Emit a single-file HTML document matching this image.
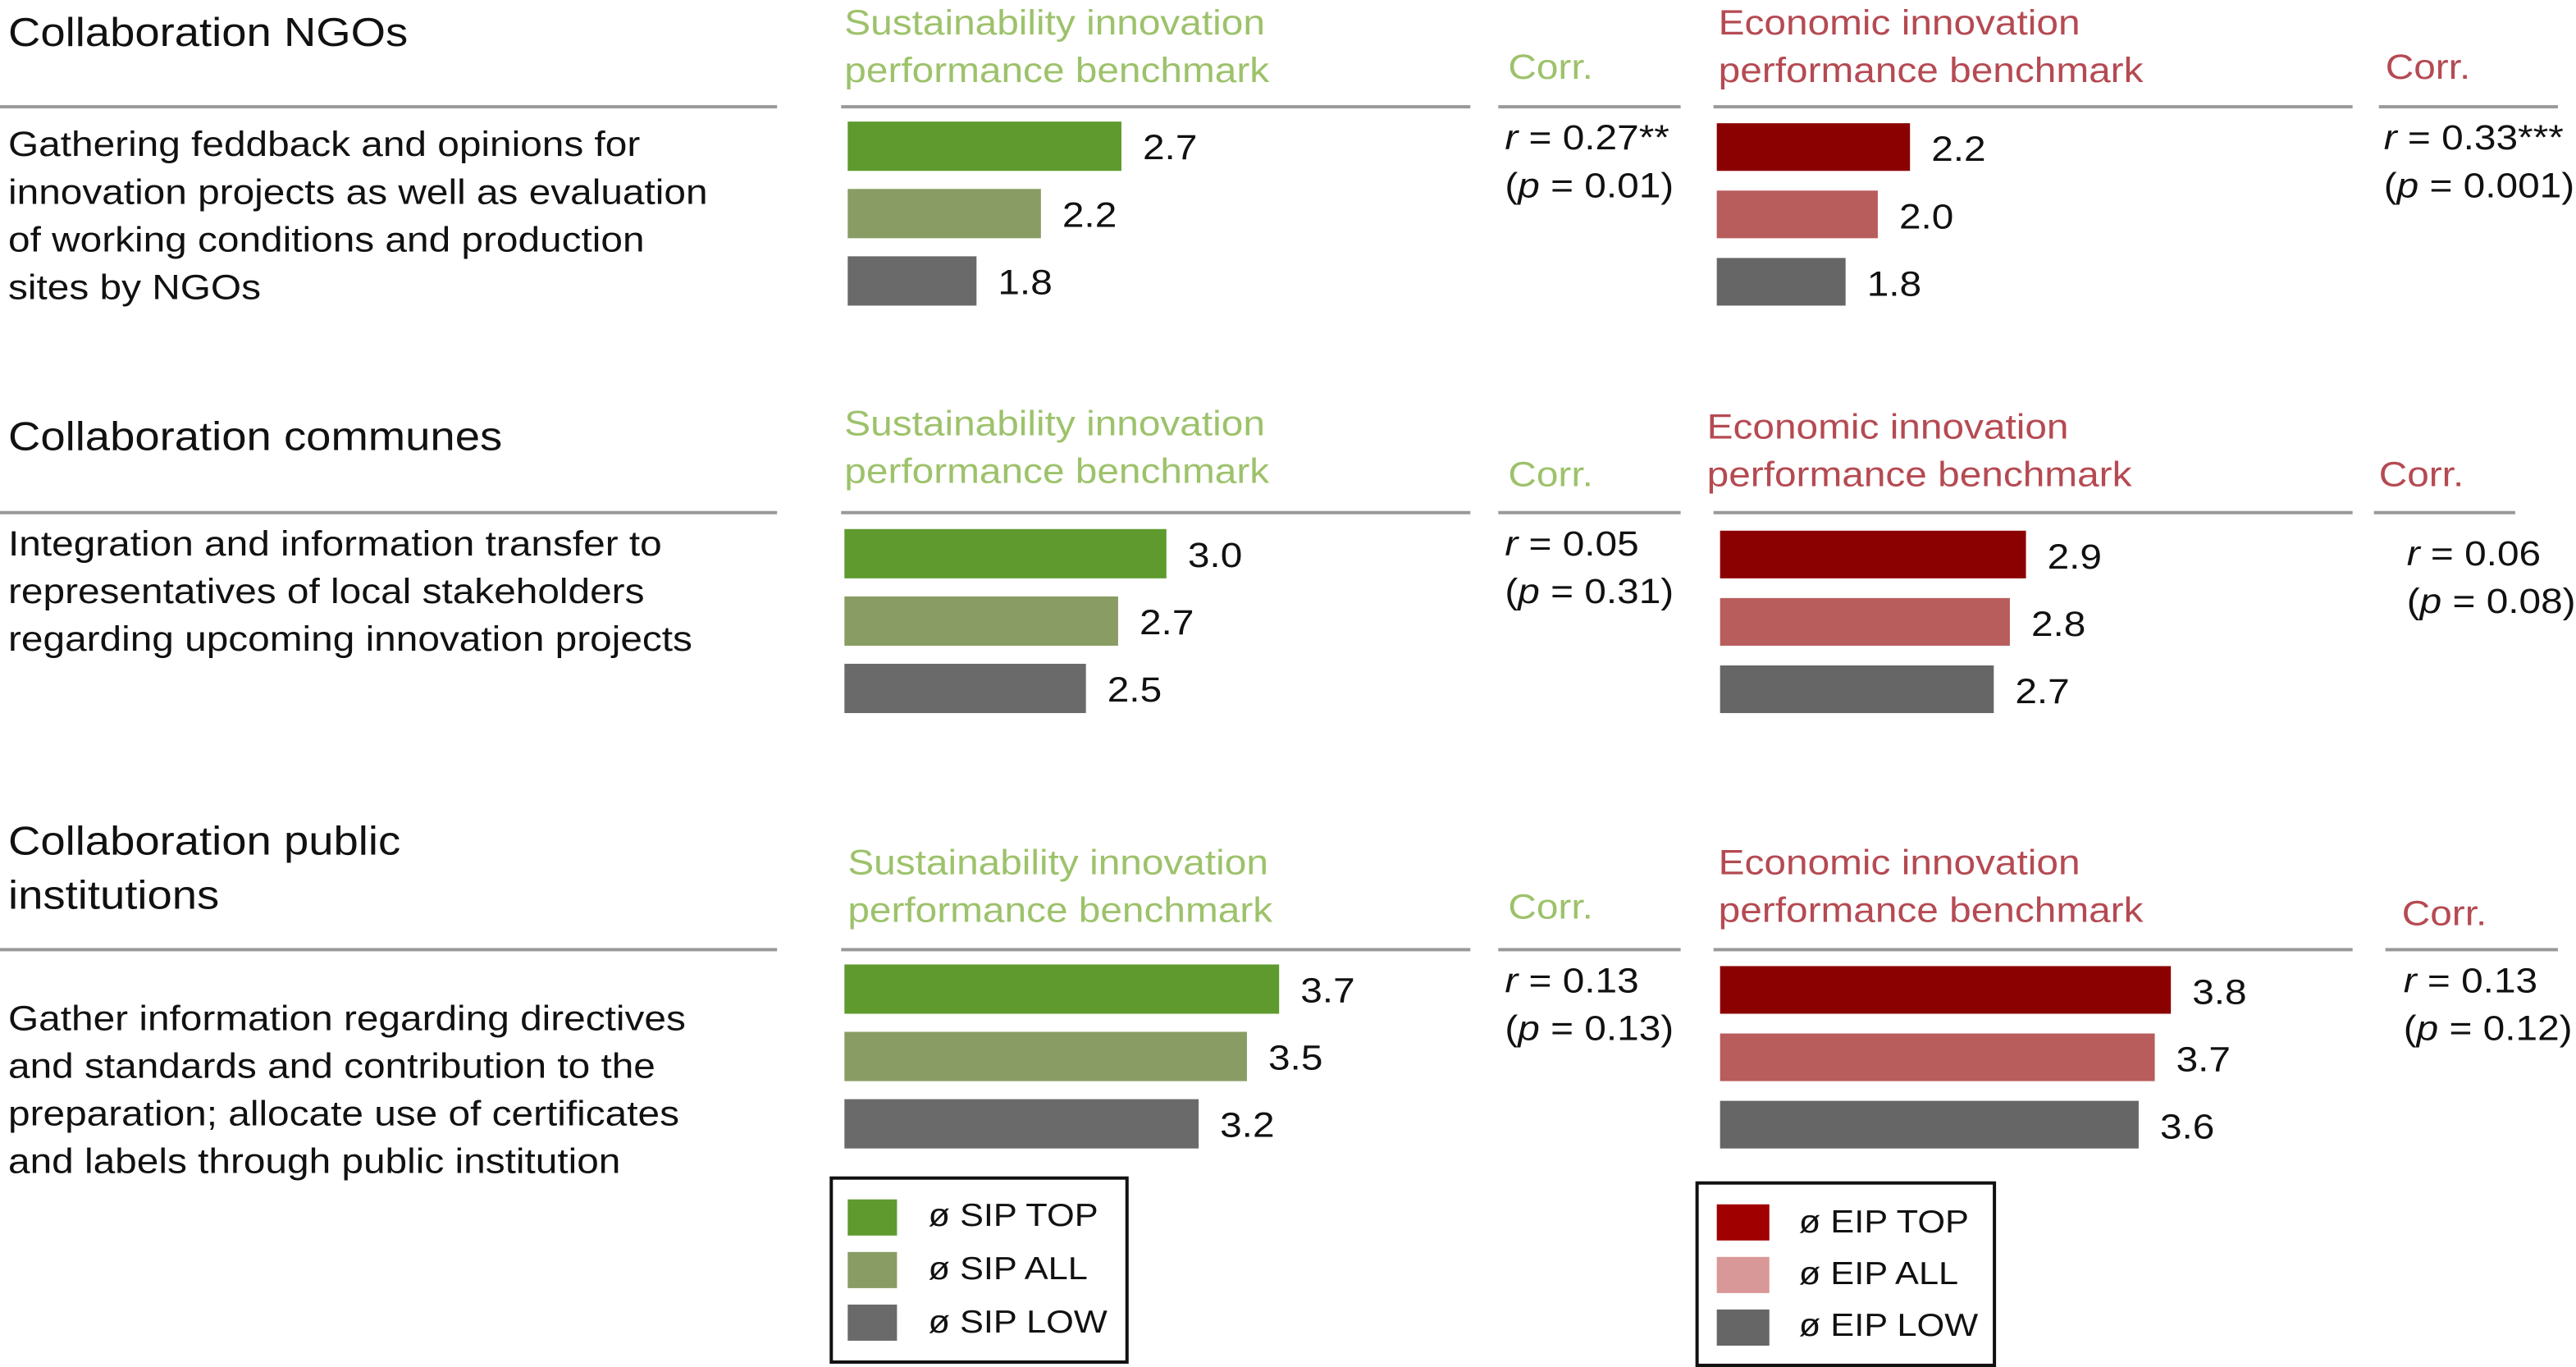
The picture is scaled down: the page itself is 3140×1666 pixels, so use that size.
<!DOCTYPE html>
<html><head><meta charset="utf-8"><style>
html,body{margin:0;padding:0;background:#fff}
svg{display:block}
text{font-family:"Liberation Sans",Arial,sans-serif}
</style></head><body>
<svg id="chart" width="3140" height="1666" viewBox="0 0 1568 832" preserveAspectRatio="none" xmlns="http://www.w3.org/2000/svg"></svg>
<script>
const sectionTitles=[["Collaboration NGOs"],["Collaboration communes"],["Collaboration public","institutions"]];
const descriptions=[["Gathering feddback and opinions for","innovation projects as well as evaluation","of working conditions and production","sites by NGOs"],["Integration and information transfer to","representatives of local stakeholders","regarding upcoming innovation projects"],["Gather information regarding directives","and standards and contribution to the","preparation; allocate use of certificates","and labels through public institution"]];
const sipValues=[[2.7,2.2,1.8],[3.0,2.7,2.5],[3.7,3.5,3.2]];
const eipValues=[[2.2,2.0,1.8],[2.9,2.8,2.7],[3.8,3.7,3.6]];
const sipCorr=[["r"," = 0.27**","(","p"," = 0.01)"],["r"," = 0.05","(","p"," = 0.31)"],["r"," = 0.13","(","p"," = 0.13)"]];
const eipCorr=[["r"," = 0.33***","(","p"," = 0.001)"],["r"," = 0.06","(","p"," = 0.08)"],["r"," = 0.13","(","p"," = 0.12)"]];
const sipLegend=["ø SIP TOP","ø SIP ALL","ø SIP LOW"];
const eipLegend=["ø EIP TOP","ø EIP ALL","ø EIP LOW"];

const svg=document.getElementById('chart');
const NS="http://www.w3.org/2000/svg";
const SX=1.11;
function el(tag,attrs,parent){const e=document.createElementNS(NS,tag);for(const k in attrs)e.setAttribute(k,attrs[k]);(parent||svg).appendChild(e);return e;}
function txt(x,y,s,fill,size,parent){const t=el('text',{x:0,y:0,transform:`translate(${x},${y}) scale(${SX},1)`,fill:fill,'font-size':size||21.5},parent);t.textContent=s;return t;}
function corrLine(x,y,it,rest,pre,parent){const t=el('text',{x:0,y:0,transform:`translate(${x},${y}) scale(${SX},1)`,fill:"#111",'font-size':21.5},parent);
  if(pre){const a=el('tspan',{},t);a.textContent=pre;}
  const i=el('tspan',{'font-style':'italic'},t);i.textContent=it;
  const r=el('tspan',{},t);r.textContent=rest;return t;}
function xScale(v){return 98*(v-1);}
const sipColors=["#5e9a2e","#899c64","#6a6a6a"];
const eipColors=["#8b0000","#b85c5c","#666666"];
const greenText="#9dc26b", redText="#b54a52";
const lineY=[65,312,578];
const titleY=[[28],[274],[520,553]];
const descY=[95,338,627];
const barTop=[74,322,587];
const sipX=[516,514,514], eipX=[1045,1047,1047];
const sipHead=[[514,21],[514,265],[516,532]];
const eipHead=[[1046,21],[1039,267],[1046,532]];
const sipCorrHead=[[918,48],[918,296],[918,559]];
const eipCorrHead=[[1452,48],[1448,296],[1462,563]];
const sipCorrPos=[[916,91],[916,338],[916,604]];
const eipCorrPos=[[1451,91],[1465,344],[1463,604]];
const eipCorrLine=[[1448,1557],[1445,1531],[1452,1557]];

for(let s=0;s<3;s++){
  const g=el('g',{});
  
  
  titleY[s].forEach((y,i)=>{const t=txt(5,y,sectionTitles[s][i],"#111",24.5,g);
    
    });
  const ly=lineY[s];
  el('line',{x1:0,x2:473,y1:ly,y2:ly,stroke:"#999","stroke-width":2},g);
  el('line',{x1:512,x2:895,y1:ly,y2:ly,stroke:"#999","stroke-width":2},g);
  el('line',{x1:912,x2:1023,y1:ly,y2:ly,stroke:"#999","stroke-width":2},g);
  el('line',{x1:1043,x2:1432,y1:ly,y2:ly,stroke:"#999","stroke-width":2},g);
  el('line',{x1:eipCorrLine[s][0],x2:eipCorrLine[s][1],y1:ly,y2:ly,stroke:"#999","stroke-width":2},g);
  descriptions[s].forEach((d,i)=>{const t=txt(5,descY[s]+29*i,d,"#111",21.5,g);
    
    });
  let t=txt(sipHead[s][0],sipHead[s][1],"Sustainability innovation",greenText,21.5,g);
  
  txt(sipHead[s][0],sipHead[s][1]+29,"performance benchmark",greenText,21.5,g);
  t=txt(eipHead[s][0],eipHead[s][1],"Economic innovation",redText,21.5,g);
  
  txt(eipHead[s][0],eipHead[s][1]+29,"performance benchmark",redText,21.5,g);
  t=txt(sipCorrHead[s][0],sipCorrHead[s][1],"Corr.",greenText,21.5,g);
  
  t=txt(eipCorrHead[s][0],eipCorrHead[s][1],"Corr.",redText,21.5,g);
  
  const c1=sipCorr[s];
  t=corrLine(sipCorrPos[s][0],sipCorrPos[s][1],c1[0],c1[1],"",g);
  
  t=corrLine(sipCorrPos[s][0],sipCorrPos[s][1]+29,c1[3],c1[4],c1[2],g);
  
  const c2=eipCorr[s];
  t=corrLine(eipCorrPos[s][0],eipCorrPos[s][1],c2[0],c2[1],"",g);
  
  t=corrLine(eipCorrPos[s][0],eipCorrPos[s][1]+29,c2[3],c2[4],c2[2],g);
  
  for(let i=0;i<3;i++){
    const y=barTop[s]+41*i;
    const w=xScale(sipValues[s][i]);
    const r=el('rect',{x:sipX[s],y:y,width:w,height:30,fill:sipColors[i]},g);
    
    
    const l=txt(sipX[s]+w+13,y+23,sipValues[s][i].toFixed(1),"#111",21.5,g);
    
    const w2=xScale(eipValues[s][i]);
    const r2=el('rect',{x:eipX[s],y:y+1,width:w2,height:29,fill:eipColors[i]},g);
    
    
    const l2=txt(eipX[s]+w2+13,y+24,eipValues[s][i].toFixed(1),"#111",21.5,g);
    
  }
}
const lg1=el('g',{});


el('rect',{x:506,y:717,width:180,height:112,fill:"none",stroke:"#111","stroke-width":2},lg1);
sipLegend.forEach((s,i)=>{el('rect',{x:516,y:730+32*i,width:30,height:22,fill:sipColors[i]},lg1);
  const t=txt(565,746+32.5*i,s,"#111",19.5,lg1);
  });
const lg2=el('g',{});


el('rect',{x:1033,y:720,width:181,height:111,fill:"none",stroke:"#111","stroke-width":2},lg2);
const eipLegColors=["#a00000","#d99898","#666666"];
eipLegend.forEach((s,i)=>{el('rect',{x:1045,y:733+32*i,width:32,height:22,fill:eipLegColors[i]},lg2);
  const t=txt(1095,750+31.5*i,s,"#111",19.5,lg2);
  });
</script>
</body></html>
